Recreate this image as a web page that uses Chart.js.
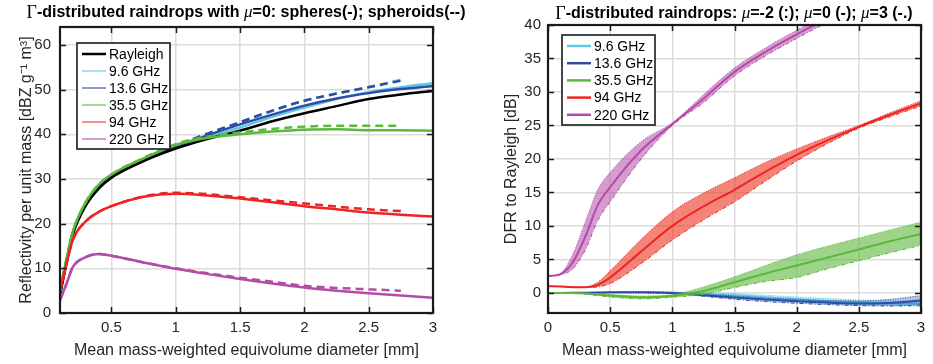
<!DOCTYPE html>
<html>
<head>
<meta charset="utf-8">
<script src="https://cdn.jsdelivr.net/npm/chart.js@4.4.0/dist/chart.umd.min.js"></script>
<style>
  html, body { margin: 0; padding: 0; background: #fff; }
  #wrap { position: relative; width: 933px; height: 364px; }
  .panel { position: absolute; top: 0; height: 364px; }
</style>
</head>
<body>
<div id="wrap">
  <div class="panel" style="left:0;width:470px"><canvas id="refl-chart"></canvas></div>
  <div class="panel" style="left:470px;width:463px"><canvas id="dfr-chart"></canvas></div>
</div>
<script>
// ---- left panel: reflectivity per unit mass, spheres (-) and spheroids (--)
const freqLabels = ["9.6 GHz", "13.6 GHz", "35.5 GHz", "94 GHz", "220 GHz"];
const dmSphere = [0.1, 0.15, 0.2, 0.3, 0.4, 0.5, 0.75, 1, 1.25, 1.5, 1.75, 2, 2.25, 2.5, 2.75, 3];
const dmSpheroid = [0.1, 0.15, 0.2, 0.3, 0.4, 0.5, 0.75, 1, 1.25, 1.5, 1.75, 2, 2.25, 2.5, 2.75];

const zRayleigh = [4, 11, 17.5, 24, 27.8, 30.3, 34.0, 36.8, 39.0, 40.8, 42.9, 44.7, 46.3, 47.9, 48.9, 49.7];
const zSphere096 = [4.5, 11.5, 18, 24.4, 28.2, 30.6, 34.2, 37.0, 39.4, 41.5, 43.9, 46.0, 47.9, 49.4, 50.5, 51.4];
const zSphere136 = [4.5, 11.5, 18, 24.4, 28.2, 30.6, 34.3, 37.2, 39.8, 42.2, 44.4, 46.4, 48.0, 49.2, 50.1, 50.8];
const zSphere355 = [5, 12, 18.2, 24.8, 28.7, 31.0, 34.6, 37.6, 39.2, 40.0, 40.6, 41.0, 41.1, 40.9, 40.9, 40.8];
const zSphere940 = [4.8, 11, 16.4, 20.5, 22.6, 23.9, 26.0, 26.7, 26.3, 25.6, 24.8, 23.9, 23.2, 22.5, 22.0, 21.6];
const zSphere2200 = [2.9, 6.5, 10.3, 12.5, 13.2, 12.8, 11.3, 9.9, 8.7, 7.6, 6.6, 5.7, 5.0, 4.4, 3.9, 3.4];

const zSpheroid096 = [4.5, 11.5, 18, 24.4, 28.2, 30.6, 34.3, 37.3, 40.0, 42.6, 45.2, 47.5, 49.1, 50.6, 52.2];
const zSpheroid136 = [4.5, 11.5, 18, 24.4, 28.2, 30.6, 34.4, 37.5, 40.2, 42.7, 45.3, 47.5, 49.1, 50.5, 52.0];
const zSpheroid355 = [5, 12, 18.2, 24.8, 28.7, 31.0, 34.7, 37.8, 39.5, 40.4, 41.2, 41.7, 41.9, 41.9, 41.9];
const zSpheroid940 = [4.8, 11, 16.4, 20.5, 22.6, 23.9, 26.1, 26.9, 26.6, 25.9, 25.2, 24.5, 23.8, 23.2, 22.8];
const zSpheroid2200 = [2.9, 6.5, 10.3, 12.5, 13.2, 12.8, 11.3, 10.0, 8.9, 7.9, 7.0, 6.1, 5.6, 5.3, 5.0];

const reflXTicks = [0.5, 1, 1.5, 2, 2.5, 3];
const reflYTicks = [0, 10, 20, 30, 40, 50, 60];

// ---- right panel: DFR to Rayleigh for mu = -2 (:), 0 (-), 3 (-.)
const dmDfr = [0, 0.1, 0.2, 0.3, 0.4, 0.5, 0.75, 1, 1.25, 1.5, 1.75, 2, 2.25, 2.5, 2.75, 3];

const dfr096Mu0 = [0, 0, 0, 0, 0.02, 0.05, 0.05, 0, -0.15, -0.35, -0.65, -0.95, -1.2, -1.4, -1.55, -1.6];
const dfr096MuM2 = [0, 0, 0, 0, 0.02, 0.08, 0.12, 0.12, 0.05, -0.1, -0.35, -0.6, -0.85, -1.05, -1.15, -1.2];
const dfr096Mu3 = [0, 0, 0, 0, 0.02, 0.02, -0.02, -0.12, -0.35, -0.6, -0.95, -1.3, -1.55, -1.75, -1.9, -2.0];

const dfr136Mu0 = [0, 0, 0.01, 0.03, 0.05, 0.08, 0.1, 0, -0.35, -0.7, -1.0, -1.25, -1.45, -1.6, -1.5, -1.15];
const dfr136MuM2 = [0, 0, 0.01, 0.03, 0.06, 0.1, 0.15, 0.1, -0.15, -0.45, -0.75, -0.95, -1.15, -1.2, -0.95, -0.4];
const dfr136Mu3 = [0, 0, 0.01, 0.02, 0.04, 0.06, 0.05, -0.1, -0.5, -0.95, -1.3, -1.55, -1.75, -1.9, -1.95, -1.8];

const dfr355Mu0 = [0, 0, -0.02, -0.1, -0.25, -0.4, -0.65, -0.45, 0.3, 1.6, 2.9, 4.1, 5.3, 6.5, 7.7, 8.8];
const dfr355MuM2 = [0, 0, 0, -0.05, -0.15, -0.25, -0.45, -0.25, 0.9, 2.4, 4.1, 5.7, 7.0, 8.2, 9.4, 10.6];
const dfr355Mu3 = [0, 0, -0.05, -0.2, -0.4, -0.6, -0.9, -0.65, -0.2, 0.8, 1.7, 2.3, 3.6, 4.8, 6.0, 7.1];

const dfr940Mu0 = [1.0, 0.95, 0.85, 0.85, 1.2, 2.3, 6.2, 10.0, 12.9, 15.4, 18.1, 20.6, 22.8, 24.8, 26.6, 28.3];
const dfr940MuM2 = [1.0, 0.95, 0.85, 0.9, 1.6, 3.3, 8.0, 12.1, 14.9, 17.2, 19.5, 21.5, 23.3, 25.0, 26.9, 28.7];
const dfr940Mu3 = [1.0, 0.95, 0.85, 0.8, 0.9, 1.4, 4.4, 7.9, 10.9, 13.6, 16.7, 19.7, 22.3, 24.6, 26.3, 27.9];

const dfr2200Mu0 = [2.5, 2.8, 4.6, 8.4, 13.1, 15.8, 21.3, 25.2, 29.0, 33.0, 36.0, 38.6, 41.0, 43.0, 44.8, 46.5];
const dfr2200MuM2 = [2.5, 2.9, 5.8, 10.6, 15.4, 18.0, 22.6, 25.4, 29.6, 33.6, 36.6, 39.2, 41.6, 43.6, 45.4, 47.0];
const dfr2200Mu3 = [2.5, 2.7, 3.6, 6.4, 10.8, 13.6, 20.0, 25.0, 28.4, 32.4, 35.4, 38.0, 40.4, 42.4, 44.2, 46.0];

const dfrXTicks = [0, 0.5, 1, 1.5, 2, 2.5, 3];
const dfrYTicks = [0, 5, 10, 15, 20, 25, 30, 35, 40];

// ---- styling
const FONT = "'Liberation Sans', Arial, Helvetica, sans-serif";
const SERIF = "'Liberation Serif', 'Times New Roman', serif";
const TEXT = "#262626";
const freqColors = ["#5ec9e2", "#2e4ca6", "#5bb83c", "#ee2424", "#b34ca7"];
const bandColors = [
  "rgba(94, 201, 226, 0.45)",
  "rgba(46, 76, 166, 0.35)",
  "rgba(91, 184, 60, 0.6)",
  "rgba(238, 50, 30, 0.6)",
  "rgba(179, 76, 167, 0.55)",
];

const toPoints = (xs, ys) => xs.map((x, i) => ({ x, y: ys[i] }));

// draw a title made of runs with different fonts, centred on cx
function drawRich(ctx, parts, cx, cy) {
  let total = 0;
  parts.forEach((p) => {
    ctx.font = p.f;
    p.w = ctx.measureText(p.t).width;
    total += p.w;
  });
  let x = cx - total / 2;
  ctx.fillStyle = "#000";
  ctx.textBaseline = "middle";
  ctx.textAlign = "left";
  parts.forEach((p) => {
    ctx.font = p.f;
    ctx.fillText(p.t, x, cy);
    x += p.w;
  });
}

// matlab-like box, inward ticks, title and legend
const framePlugin = {
  id: "frame",
  afterDraw(chart, args, opts) {
    const { ctx, chartArea: a, scales } = chart;
    ctx.save();
    ctx.strokeStyle = "#1a1a1a";
    ctx.lineWidth = 1.5;
    ctx.beginPath();
    scales.x.ticks.forEach((t) => {
      const px = Math.round(scales.x.getPixelForValue(t.value)) + 0.5;
      ctx.moveTo(px, a.bottom); ctx.lineTo(px, a.bottom - 6);
      ctx.moveTo(px, a.top); ctx.lineTo(px, a.top + 6);
    });
    scales.y.ticks.forEach((t) => {
      const py = Math.round(scales.y.getPixelForValue(t.value)) + 0.5;
      ctx.moveTo(a.left, py); ctx.lineTo(a.left + 6, py);
      ctx.moveTo(a.right, py); ctx.lineTo(a.right - 6, py);
    });
    ctx.stroke();
    ctx.lineWidth = 2.2;
    ctx.strokeRect(a.left, a.top, a.right - a.left, a.bottom - a.top);

    // legend
    const lg = opts.legend;
    ctx.fillStyle = "#fff";
    ctx.fillRect(lg.x, lg.y, lg.w, lg.h);
    ctx.lineWidth = 1.6;
    ctx.strokeStyle = "#1a1a1a";
    ctx.strokeRect(lg.x, lg.y, lg.w, lg.h);
    lg.items.forEach((it, i) => {
      const yy = lg.y + lg.first + i * lg.step;
      ctx.strokeStyle = it.color;
      ctx.lineWidth = it.width;
      ctx.beginPath();
      ctx.moveTo(lg.x + 5, yy);
      ctx.lineTo(lg.x + 29, yy);
      ctx.stroke();
      ctx.fillStyle = "#000";
      ctx.font = "14px " + FONT;
      ctx.textBaseline = "middle";
      ctx.textAlign = "left";
      ctx.fillText(it.label, lg.x + 32, yy + 1);
    });

    drawRich(ctx, opts.title, opts.titleX, opts.titleY);
    ctx.restore();
  },
};

function linearAxis(min, max, tickValues, title, fitSize, horizontal, titlePad, tickPad) {
  return {
    type: "linear",
    min,
    max,
    afterBuildTicks: (scale) => {
      scale.ticks = tickValues.map((v) => ({ value: v }));
    },
    afterFit: (scale) => {
      if (horizontal) scale.height = fitSize;
      else scale.width = fitSize;
    },
    grid: { color: "#dcdcdc", lineWidth: 1.5, drawTicks: false },
    border: { display: false },
    ticks: {
      color: TEXT,
      font: { family: FONT, size: 15 },
      padding: tickPad,
      maxRotation: 0,
      autoSkip: false,
      callback: (v) => String(v),
    },
    title: { display: true, text: title, color: TEXT, font: { family: FONT, size: 16 }, padding: titlePad },
  };
}

const bold = "bold 16px " + FONT;
const gammaFont = "18px " + SERIF;
const muFont = "italic 17px " + SERIF;

// ---- left chart
const ctxRefl = document.getElementById("refl-chart");

if (ctxRefl != null) {
  const sphereSeries = [zSphere096, zSphere136, zSphere355, zSphere940, zSphere2200];
  const spheroidSeries = [zSpheroid096, zSpheroid136, zSpheroid355, zSpheroid940, zSpheroid2200];
  const datasets = [];

  freqLabels.forEach((label, i) => {
    datasets.push({
      label: label + " spheroids",
      data: toPoints(dmSpheroid, spheroidSeries[i]),
      borderColor: freqColors[i],
      borderWidth: 2.5,
      borderDash: [8, 5],
      order: 20 - 2 * i,
    });
    datasets.push({
      label,
      data: toPoints(dmSphere, sphereSeries[i]),
      borderColor: freqColors[i],
      borderWidth: 2.5,
      order: 19 - 2 * i,
    });
  });
  datasets.push({
    label: "Rayleigh",
    data: toPoints(dmSphere, zRayleigh),
    borderColor: "#000",
    borderWidth: 2.5,
    order: 16,
  });

  new Chart(ctxRefl, {
    type: "line",
    data: { datasets },
    options: {
      responsive: true,
      maintainAspectRatio: false,
      animation: false,
      layout: { padding: { top: 27, right: 37, left: 0, bottom: 0 } },
      elements: { point: { radius: 0 }, line: { cubicInterpolationMode: "monotone", fill: false } },
      scales: {
        x: linearAxis(0.1, 3, reflXTicks, "Mean mass-weighted equivolume diameter [mm]", 51, true, { bottom: 4 }, 6),
        y: linearAxis(0, 64, reflYTicks, "Reflectivity per unit mass [dBZ g\u207B\u00B9 m\u00B3]", 60, false, { top: 17 }, 9),
      },
      plugins: {
        legend: { display: false },
        tooltip: { enabled: false },
        frame: {
          titleX: 246,
          titleY: 13,
          title: [
            { t: "\u0393", f: gammaFont },
            { t: "-distributed raindrops with ", f: bold },
            { t: "\u03BC", f: muFont },
            { t: "=0: spheres(-); spheroids(--)", f: bold },
          ],
          legend: {
            x: 77, y: 43, w: 93, h: 106, first: 11, step: 17,
            items: [
              { label: "Rayleigh", color: "#000", width: 2.5 },
              { label: freqLabels[0], color: "rgba(94, 201, 226, 0.55)", width: 2 },
              { label: freqLabels[1], color: "rgba(46, 76, 166, 0.55)", width: 2 },
              { label: freqLabels[2], color: "rgba(91, 184, 60, 0.55)", width: 2 },
              { label: freqLabels[3], color: "rgba(238, 36, 36, 0.5)", width: 2 },
              { label: freqLabels[4], color: "rgba(179, 76, 167, 0.55)", width: 2 },
            ],
          },
        },
      },
    },
    plugins: [framePlugin],
  });
}

// ---- right chart
const ctxDfr = document.getElementById("dfr-chart");

if (ctxDfr != null) {
  const mu0 = [dfr096Mu0, dfr136Mu0, dfr355Mu0, dfr940Mu0, dfr2200Mu0];
  const muM2 = [dfr096MuM2, dfr136MuM2, dfr355MuM2, dfr940MuM2, dfr2200MuM2];
  const mu3 = [dfr096Mu3, dfr136Mu3, dfr355Mu3, dfr940Mu3, dfr2200Mu3];
  const datasets = [];

  freqLabels.forEach((label, i) => {
    const base = datasets.length;
    datasets.push({
      label: label + " mu=3",
      data: toPoints(dmDfr, mu3[i]),
      borderColor: freqColors[i],
      borderWidth: 1,
      borderDash: [4, 2, 1, 2],
      fill: false,
      order: 30 - 3 * i,
    });
    datasets.push({
      label: label + " mu=-2",
      data: toPoints(dmDfr, muM2[i]),
      borderColor: freqColors[i],
      borderWidth: 1,
      borderDash: [1, 1.5],
      backgroundColor: bandColors[i],
      fill: { target: base },
      order: 29 - 3 * i,
    });
    datasets.push({
      label,
      data: toPoints(dmDfr, mu0[i]),
      borderColor: freqColors[i],
      borderWidth: 2,
      fill: false,
      order: 28 - 3 * i,
    });
  });

  new Chart(ctxDfr, {
    type: "line",
    data: { datasets },
    options: {
      responsive: true,
      maintainAspectRatio: false,
      animation: false,
      layout: { padding: { top: 25, right: 12, left: 0, bottom: 0 } },
      elements: { point: { radius: 0 }, line: { cubicInterpolationMode: "monotone" } },
      scales: {
        x: linearAxis(0, 3, dfrXTicks, "Mean mass-weighted equivolume diameter [mm]", 51, true, { bottom: 4 }, 6),
        y: linearAxis(-3, 40, dfrYTicks, "DFR to Rayleigh [dB]", 78, false, { top: 32 }, 7),
      },
      plugins: {
        legend: { display: false },
        tooltip: { enabled: false },
        frame: {
          titleX: 264,
          titleY: 14,
          title: [
            { t: "\u0393", f: gammaFont },
            { t: "-distributed raindrops: ", f: bold },
            { t: "\u03BC", f: muFont },
            { t: "=-2 (:); ", f: bold },
            { t: "\u03BC", f: muFont },
            { t: "=0 (-); ", f: bold },
            { t: "\u03BC", f: muFont },
            { t: "=3 (-.)", f: bold },
          ],
          legend: {
            x: 92, y: 35, w: 93, h: 90, first: 11, step: 17.2,
            items: freqLabels.map((label, i) => ({ label, color: freqColors[i], width: 2.5 })),
          },
        },
      },
    },
    plugins: [framePlugin],
  });
}
</script>
</body>
</html>
